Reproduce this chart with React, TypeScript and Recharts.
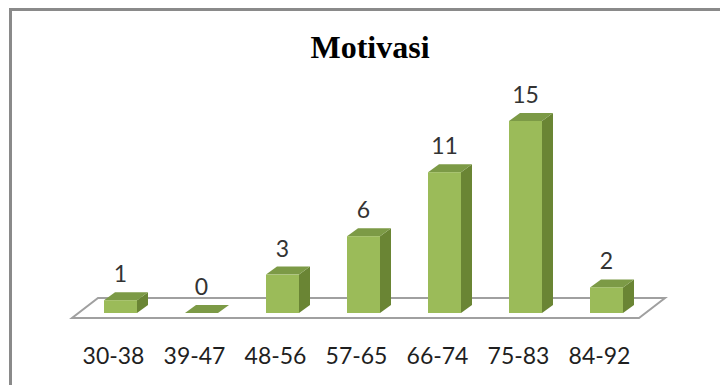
import React from "react";
import { BarChart, Bar, XAxis, YAxis, LabelList, CartesianGrid } from "recharts";

const categories = ["30-38", "39-47", "48-56", "57-65", "66-74", "75-83", "84-92"];
const counts = [1, 0, 3, 6, 11, 15, 2];

const data = categories.map((range, i) => ({ range, count: counts[i] }));

const FRONT = "#9bbb59";
const TOP = "#7c9a46";
const SIDE = "#6a8534";
const DX = 11;
const DY = 8;

const Bar3D = (props: any) => {
  const { x, y, width, height } = props;
  if (x == null || y == null) return null;
  const h = Math.max(height || 0, 0);
  return (
    <g>
      <polygon
        points={`${x + width},${y} ${x + width + DX},${y - DY} ${x + width + DX},${y + h - DY} ${x + width},${y + h}`}
        fill={SIDE}
      />
      <polygon
        points={`${x},${y} ${x + DX},${y - DY} ${x + width + DX},${y - DY} ${x + width},${y}`}
        fill={TOP}
      />
      {h > 0 && <rect x={x} y={y} width={width} height={h} fill={FRONT} />}
    </g>
  );
};

// floor under the bars, built from the grid line at zero
const Floor = (props: any) => {
  const { x1, y1, x2 } = props;
  if (x1 == null) return null;
  const pts = [
    [x1 - 8, y1 + 5],
    [x2 - 8, y1 + 5],
    [x2 + 18, y1 - 15],
    [x1 + 18, y1 - 15],
  ];
  return (
    <polygon
      points={pts.map((p) => p.join(",")).join(" ")}
      fill="#ffffff"
      stroke="#a0a0a0"
      strokeWidth={2}
    />
  );
};

const Tick = (props: any) => {
  const { x, y, payload } = props;
  return (
    <text
      x={x - 7}
      y={y + 49}
      textAnchor="middle"
      fill="#1f1f1f"
      fontSize={23}
      fontFamily="Lato, 'Open Sans', sans-serif"
    >
      {payload.value}
    </text>
  );
};

const ValueLabel = (props: any) => {
  const { x, y, width, value } = props;
  return (
    <text
      x={x + width / 2}
      y={y - 18}
      textAnchor="middle"
      fill="#333333"
      fontSize={23}
      fontFamily="Lato, 'Open Sans', sans-serif"
    >
      {value}
    </text>
  );
};

export default function App() {
  return (
    <div
      style={{
        position: "fixed",
        left: 0,
        top: 0,
        width: 720,
        height: 385,
        background: "#ffffff",
        overflow: "hidden",
      }}
    >
      <svg
        width={720}
        height={385}
        style={{ position: "absolute", left: 0, top: 0 }}
      >
        <line x1={9} y1={9.5} x2={720} y2={9.5} stroke="#8a8a8a" strokeWidth={3} />
        <line x1={10.5} y1={8} x2={10.5} y2={385} stroke="#8a8a8a" strokeWidth={3} />
        <text
          x={370}
          y={58}
          textAnchor="middle"
          fontSize={32}
          fontWeight="bold"
          fill="#000000"
          fontFamily="'Liberation Serif', 'Times New Roman', serif"
        >
          Motivasi
        </text>
      </svg>
      <div style={{ position: "absolute", left: 0, top: 0 }}>
        <BarChart
          width={720}
          height={385}
          data={data}
          margin={{ top: 121, right: 73, left: 80, bottom: 32 }}
        >
          <CartesianGrid
            vertical={false}
            horizontalValues={[0]}
            horizontal={(p: any) => <Floor key={p.key} {...p} />}
          />
          <XAxis
            dataKey="range"
            height={40}
            axisLine={false}
            tickLine={false}
            tickSize={0}
            tick={<Tick />}
            interval={0}
          />
          <YAxis hide domain={[0, 15]} />
          <Bar
            dataKey="count"
            barSize={33}
            shape={<Bar3D />}
            isAnimationActive={false}
          >
            <LabelList dataKey="count" content={<ValueLabel />} />
          </Bar>
        </BarChart>
      </div>
    </div>
  );
}
